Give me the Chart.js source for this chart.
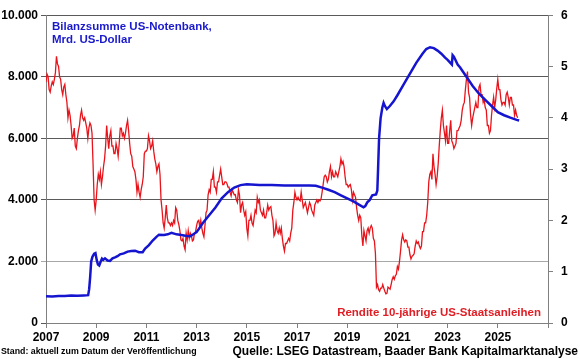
<!DOCTYPE html>
<html><head><meta charset="utf-8">
<script src="https://cdn.jsdelivr.net/npm/chart.js@4/dist/chart.umd.min.js"></script>
<style>html,body{margin:0;padding:0;background:#fff}#wrap{width:580px;height:359px;position:relative}</style>
</head><body><div id="wrap"><canvas id="c" width="580" height="359"></canvas></div>
<script>
// ---- data ----
const xMin = 2007, xMax = 2027;
const leftTicks = [0, 2000, 4000, 6000, 8000, 10000];
const rightTicks = [0, 1, 2, 3, 4, 5, 6];

// Fed balance sheet, bn USD (decimal year, value)
const blueDates = [2007.0,2007.25,2007.5,2007.75,2008.0,2008.25,2008.5,2008.68,2008.72,2008.76,2008.8,2008.85,2008.92,2008.97,2009.02,2009.07,2009.12,2009.18,2009.23,2009.28,2009.35,2009.45,2009.55,2009.65,2009.75,2009.85,2009.95,2010.1,2010.25,2010.4,2010.55,2010.7,2010.85,2010.95,2011.1,2011.25,2011.4,2011.5,2011.7,2011.85,2012.0,2012.2,2012.4,2012.6,2012.75,2012.9,2013.0,2013.25,2013.5,2013.75,2014.0,2014.25,2014.5,2014.75,2015.0,2015.5,2016.0,2016.5,2017.0,2017.5,2017.75,2018.0,2018.25,2018.5,2018.75,2019.0,2019.25,2019.5,2019.65,2019.72,2019.8,2019.9,2020.0,2020.15,2020.2,2020.23,2020.27,2020.33,2020.4,2020.45,2020.5,2020.58,2020.7,2020.85,2021.0,2021.25,2021.5,2021.75,2022.0,2022.15,2022.3,2022.45,2022.6,2022.75,2022.9,2023.0,2023.17,2023.2,2023.25,2023.4,2023.5,2023.75,2024.0,2024.25,2024.5,2024.75,2025.0,2025.25,2025.5,2025.75,2025.85];
const blueValues = [870,865,880,880,890,885,895,905,1100,1500,2000,2150,2250,2270,2050,1900,1870,2000,2090,2050,2100,2030,2020,2100,2130,2170,2230,2260,2320,2340,2350,2300,2300,2420,2530,2680,2800,2870,2860,2880,2930,2880,2860,2830,2820,2900,2950,3250,3500,3750,4050,4250,4400,4480,4510,4480,4480,4470,4470,4470,4460,4400,4330,4250,4150,4050,3950,3830,3760,3800,3920,4000,4150,4180,4300,5000,6000,6650,7000,7150,7050,6950,7050,7200,7400,7750,8100,8450,8750,8900,8960,8930,8850,8750,8620,8550,8400,8700,8650,8400,8300,8000,7700,7450,7250,7050,6850,6750,6670,6600,6580];

// 10y US Treasury yield, %, semi-monthly from Jan 2007
const redStart = 2007, redPerYear = 24;
const redYield = [
4.70,4.85,4.80,4.55,4.50,4.62,4.70,4.65,4.75,4.88,5.20,5.05,5.00,4.80,4.75,4.55,4.45,4.60,4.65,4.45,4.30,4.00,4.15,4.05,
3.85,3.60,3.65,3.80,3.45,3.40,3.60,3.75,3.85,4.05,4.15,4.00,3.95,4.00,3.90,3.80,3.60,3.80,3.90,3.85,3.70,3.10,2.40,2.20,
2.40,2.70,2.90,2.80,2.95,2.70,2.85,3.05,3.20,3.45,3.85,3.60,3.40,3.65,3.75,3.45,3.45,3.30,3.30,3.50,3.40,3.25,3.50,3.80,
3.80,3.65,3.70,3.60,3.70,3.85,3.95,3.75,3.50,3.30,3.25,3.05,3.00,2.95,2.80,2.55,2.70,2.55,2.45,2.60,2.70,2.85,3.30,3.35,
3.35,3.40,3.65,3.55,3.40,3.45,3.55,3.35,3.20,3.10,2.95,3.05,3.10,2.90,2.40,2.20,1.95,1.85,2.05,2.30,2.05,1.95,1.95,1.90,
1.95,1.90,2.00,1.95,2.25,2.20,2.00,1.92,1.80,1.62,1.60,1.65,1.50,1.43,1.75,1.62,1.80,1.65,1.75,1.70,1.60,1.62,1.75,1.78,
1.90,1.98,2.00,1.88,2.00,1.85,1.75,1.68,1.90,2.15,2.20,2.50,2.60,2.55,2.80,2.80,2.95,2.65,2.65,2.55,2.75,2.75,2.88,3.00,
2.85,2.70,2.70,2.75,2.75,2.72,2.65,2.65,2.55,2.48,2.60,2.55,2.50,2.50,2.40,2.35,2.60,2.50,2.15,2.30,2.35,2.20,2.10,2.17,
1.85,1.70,2.00,2.00,2.10,1.95,1.90,2.05,2.20,2.15,2.45,2.35,2.40,2.20,2.15,2.10,2.20,2.05,2.05,2.15,2.30,2.20,2.25,2.27,
2.10,2.00,1.70,1.75,1.95,1.80,1.75,1.85,1.75,1.85,1.65,1.50,1.40,1.55,1.55,1.60,1.65,1.60,1.75,1.85,2.20,2.35,2.55,2.45,
2.40,2.45,2.40,2.38,2.55,2.40,2.25,2.30,2.35,2.25,2.15,2.25,2.35,2.30,2.20,2.15,2.10,2.30,2.35,2.40,2.35,2.40,2.38,2.42,
2.55,2.70,2.85,2.88,2.85,2.75,2.80,2.95,3.05,2.85,2.95,2.85,2.85,2.95,2.90,2.85,2.95,3.05,3.20,3.10,3.15,3.05,2.85,2.70,
2.70,2.65,2.68,2.70,2.60,2.40,2.55,2.50,2.45,2.25,2.10,2.00,2.10,2.05,1.70,1.50,1.80,1.70,1.60,1.80,1.85,1.75,1.85,1.90,
1.85,1.65,1.60,1.35,0.70,0.75,0.65,0.62,0.68,0.68,0.75,0.68,0.62,0.57,0.58,0.70,0.68,0.66,0.75,0.85,0.90,0.85,0.92,0.95,
1.10,1.05,1.20,1.40,1.62,1.72,1.62,1.58,1.62,1.60,1.48,1.48,1.33,1.25,1.30,1.32,1.35,1.50,1.60,1.55,1.58,1.50,1.45,1.50,
1.78,1.78,1.95,1.95,2.10,2.35,2.75,2.90,2.95,2.80,3.30,3.05,2.90,2.70,2.85,3.10,3.45,3.75,4.00,4.15,3.85,3.70,3.55,3.85,
3.50,3.50,3.75,3.95,3.55,3.50,3.40,3.45,3.50,3.75,3.75,3.80,3.85,3.95,4.15,4.25,4.30,4.55,4.75,4.90,4.50,4.40,4.05,3.85,
4.00,4.10,4.20,4.30,4.20,4.20,4.60,4.65,4.45,4.45,4.30,4.35,4.20,4.15,3.85,3.85,3.70,3.75,4.05,4.25,4.40,4.20,4.35,4.57,
4.75,4.55,4.55,4.35,4.25,4.30,4.30,4.25,4.45,4.50,4.40,4.25,4.40,4.40,4.25,4.25,4.05,4.15,4.05,4.00
];

const labelBlue = ['Bilanzsumme US-Notenbank,', 'Mrd. US-Dollar'];
const labelRed = 'Rendite 10-jährige US-Staatsanleihen';
const footLeft = 'Stand: aktuell zum Datum der Veröffentlichung';
const footRight = 'Quelle: LSEG Datastream, Baader Bank Kapitalmarktanalyse';

// ---- build ----
const bluePts = blueDates.map((d, i) => ({x: d, y: blueValues[i]}));
const redPts = redYield.map((v, i) => ({x: redStart + i / redPerYear, y: v}));
const FONT = '"Liberation Sans", Arial, sans-serif';
const fmtDE = v => String(v).replace(/\B(?=(\d{3})+(?!\d))/g, '.');

const textPlugin = {
  id: 'texts',
  afterDraw(chart) {
    const ctx = chart.ctx;
    ctx.save();
    ctx.textBaseline = 'middle';
    ctx.font = 'bold 11.5px ' + FONT;
    ctx.fillStyle = '#1a1acc';
    ctx.textAlign = 'left';
    ctx.fillText(labelBlue[0], 52, 27);
    ctx.fillText(labelBlue[1], 52, 40);
    ctx.fillStyle = '#e01e25';
    ctx.textAlign = 'right';
    ctx.fillText(labelRed, 541, 313);
    ctx.fillStyle = '#000';
    ctx.font = 'bold 12px ' + FONT;
    ctx.fillText(footRight, 578, 352);
    ctx.textAlign = 'left';
    ctx.font = 'bold 8.8px ' + FONT;
    ctx.fillText(footLeft, 1, 352);
    ctx.restore();
  }
};

new Chart(document.getElementById('c'), {
  type: 'line',
  data: {
    datasets: [
      {data: bluePts, yAxisID: 'y', borderColor: '#1515d0', borderWidth: 2.5, pointRadius: 0, tension: 0, order: 0},
      {data: redPts, yAxisID: 'y1', borderColor: '#e8141b', borderWidth: 1.3, pointRadius: 0, tension: 0, order: 1}
    ]
  },
  options: {
    responsive: false, animation: false, devicePixelRatio: 1,
    layout: {padding: {top: 15, left: 0, right: 0, bottom: 0}},
    plugins: {legend: {display: false}, tooltip: {enabled: false}},
    scales: {
      x: {
        type: 'linear', min: xMin, max: xMax,
        afterBuildTicks: s => { const t = []; for (let y = xMin; y <= xMax; y += 2) t.push({value: y}); s.ticks = t; },
        ticks: {autoSkip: false, maxRotation: 0, padding: 2, color: '#000', font: {family: FONT, size: 12, weight: 'bold'},
          callback: v => v === xMax ? '' : String(v)},
        grid: {drawOnChartArea: false, tickLength: 5, color: '#808080'},
        border: {color: '#808080'},
        afterFit: s => { s.height = 36; }
      },
      y: {
        position: 'left', min: 0, max: 10000,
        afterBuildTicks: s => { s.ticks = leftTicks.map(v => ({value: v})); },
        ticks: {padding: 3, color: '#000', font: {family: FONT, size: 12, weight: 'bold'}, callback: v => fmtDE(v)},
        grid: {tickLength: 5, color: c => (c.tick && c.tick.value === 2000) ? '#a8a8a8' : '#5a5a5a', lineWidth: 1},
        border: {color: '#808080'},
        afterFit: s => { s.width = 46; }
      },
      y1: {
        position: 'right', min: 0, max: 6,
        afterBuildTicks: s => { s.ticks = rightTicks.map(v => ({value: v})); },
        ticks: {padding: 8, color: '#000', font: {family: FONT, size: 12, weight: 'bold'}},
        grid: {drawOnChartArea: false, tickLength: 5, color: '#808080'},
        border: {color: '#808080'},
        afterFit: s => { s.width = 32; }
      }
    }
  },
  plugins: [textPlugin]
});
</script>
</body></html>
